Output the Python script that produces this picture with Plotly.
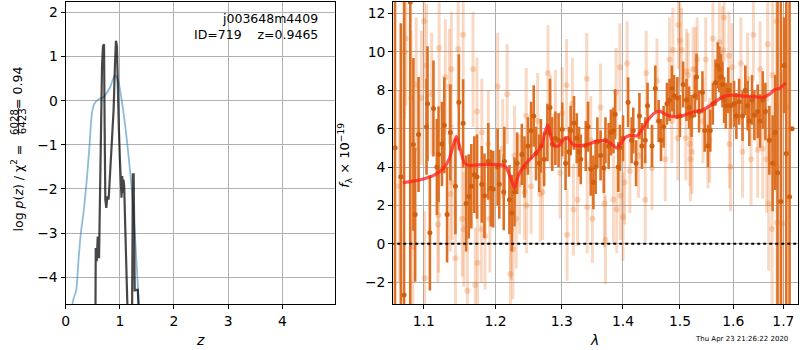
import plotly.graph_objects as go

# ---------------- left panel: p(z) ----------------
z_prior = [0.10, 0.134, 0.195, 0.238, 0.281, 0.330, 0.391, 0.440, 0.483, 0.525, 0.605, 0.696,
           0.819, 0.910, 0.971, 1.051, 1.136, 1.216, 1.277, 1.320, 1.350, 1.37]
lnp_prior = [-5.2, -4.55, -4.30, -3.61, -3.0, -2.55, -1.79, -1.03, -0.31, -0.08, 0.03, 0.08,
             0.30, 0.58, 0.45, -0.12, -0.95, -1.94, -3.0, -3.91, -4.61, -5.5]

z_pz = [0.540, 0.544, 0.556, 0.574, 0.593, 0.617, 0.635, 0.648, 0.660, 0.672, 0.690, 0.709,
        0.721, 0.733, 0.751, 0.770, 0.794, 0.812, 0.837, 0.861, 0.886, 0.910, 0.929, 0.947,
        0.965, 0.983, 1.002, 1.020, 1.032, 1.045, 1.057, 1.069, 1.081, 1.100, 1.118, 1.136,
        1.150, 1.215, 1.228, 1.236, 1.241, 1.256, 1.263, 1.275, 1.307, 1.332, 1.344, 1.350]
lnp_pz = [-8, -4.61, -3.34, -3.64, -3.08, -3.57, -2.17, -0.73, -0.58, 0.79, 1.24, 1.28,
          -0.73, -2.24, -2.43, -2.17, -2.24, -1.83, -1.48, -0.88, -0.20, 0.79, 1.36, 1.24,
          0.11, -0.65, -1.33, -1.79, -2.20, -1.71, -2.09, -1.79, -1.94, -2.85, -3.76, -4.61,
          -8, -8, -4.5, -1.67, -1.67, -1.67, -4.0, -4.3, -4.29, -4.29, -4.61, -8]

z_ticks = [0, 1, 2, 3, 4]
lnp_ticks = [-4, -3, -2, -1, 0, 1, 2]

# ---------------- right panel: spectrum ----------------
lam_a = [1.0625, 1.0700, 1.0742, 1.0823, 1.0864, 1.0887, 1.0932, 1.1038, 1.1051, 1.1083,
         1.1131, 1.1177, 1.1200, 1.1246, 1.1278, 1.1316, 1.1361, 1.1431, 1.1478, 1.1538,
         1.1580, 1.1617, 1.1653, 1.1695, 1.1733, 1.1802, 1.1840, 1.1895, 1.1931, 1.1965,
         1.2030, 1.2054, 1.2119, 1.2128, 1.2203, 1.2239, 1.2278, 1.2318, 1.2388, 1.2427,
         1.2478, 1.2527, 1.2567, 1.2602, 1.2651, 1.2676, 1.2726, 1.2777, 1.2816, 1.2852,
         1.2901, 1.2951, 1.3008, 1.3061, 1.3115, 1.3142, 1.3195, 1.3239, 1.3276, 1.3303,
         1.3384, 1.3421, 1.3465, 1.3508, 1.3545, 1.3573, 1.3626, 1.3679, 1.3707, 1.3760,
         1.3798, 1.3840, 1.3868, 1.3921, 1.3948, 1.4001, 1.4088, 1.4148, 1.4176, 1.4224,
         1.4282, 1.4325, 1.4383, 1.4423, 1.4501, 1.4559, 1.4618, 1.4660, 1.4706, 1.4766,
         1.4812, 1.4854, 1.4894, 1.4953, 1.5000, 1.5057, 1.5120, 1.5167, 1.5212, 1.5272,
         1.5304, 1.5351, 1.5414, 1.5456, 1.5517, 1.5561, 1.5609, 1.5659, 1.5701, 1.5732,
         1.5764, 1.5793, 1.5824, 1.5856, 1.5904, 1.5948, 1.6014, 1.6060, 1.6114, 1.6180,
         1.6234, 1.6280, 1.6314, 1.6368, 1.6414, 1.6480, 1.6528, 1.6580, 1.6634, 1.6714,
         1.6780, 1.6834, 1.6880, 1.6948, 1.7014, 1.7060, 1.7128, 1.7180]
flux_a = [5.0, 3.5, -2.67, 12.6, 5.18, 1.52, 5.7, 6.1, 7.3, 0.57,
          7.05, 4.0, 4.66, 5.2, 6.18, 1.52, 5.8, 3.0, 7.38, 6.28,
          2.1, 2.47, 3.0, 3.6, 3.5, 3.1, 2.5, 4.3, 2.9, 2.85,
          4.0, 3.1, 2.7, 4.3, 2.3, 1.6, 2.7, 4.2, 4.66, 4.0,
          5.1, 5.9, 6.66, 4.7, 4.2, 5.1, 4.4, 5.8, 7.1, 5.2,
          5.5, 5.4, 5.96, 4.2, 4.8, 5.9, 6.3, 5.5, 4.8, 4.4,
          5.1, 6.1, 3.9, 3.2, 4.0, 5.3, 4.6, 3.95, 5.4, 5.1,
          5.8, 5.9, 6.75, 4.0, 5.0, 5.5, 7.38, 5.4, 5.9, 4.2,
          6.66, 5.1, 5.4, 7.2, 5.1, 8.1, 6.4, 5.4, 6.1, 7.3,
          7.5, 8.1, 7.7, 7.6, 6.66, 8.3, 7.5, 7.1, 6.66, 7.7,
          8.7, 6.9, 7.9, 5.9, 5.1, 5.9, 7.3, 8.4, 9.3, 9.1,
          8.7, 8.3, 7.5, 7.2, 8.0, 7.2, 7.3, 6.66, 7.4, 6.66,
          8.0, 7.2, 6.4, 7.5, 6.7, 6.9, 6.4, 7.5, 6.9, 5.4,
          4.2, 5.8, 3.7, 2.2, 9.3, 4.7, 2.45, 6.0]
err_a = [30, 8.0, 30, 30, 4.5, 3.5, 3.0, 2.5, 3.0, 3.0,
         2.5, 2.5, 2.5, 2.2, 2.5, 2.5, 2.5, 2.5, 2.5, 2.3,
         2.5, 2.2, 2.2, 2.0, 2.2, 2.0, 2.2, 2.0, 2.0, 2.0,
         2.0, 1.8, 2.0, 1.8, 1.8, 2.0, 1.8, 1.6, 1.6, 1.6,
         1.5, 1.5, 1.6, 1.4, 1.5, 1.4, 1.4, 1.5, 1.5, 1.4,
         1.4, 1.4, 1.4, 1.4, 1.3, 1.3, 1.4, 1.3, 1.3, 1.3,
         1.3, 1.3, 1.4, 1.4, 1.4, 1.3, 1.3, 1.3, 1.2, 1.2,
         1.2, 1.2, 1.3, 1.3, 1.2, 1.2, 1.3, 1.2, 1.2, 1.2,
         1.2, 1.2, 1.2, 1.2, 1.1, 1.2, 1.1, 1.1, 1.1, 1.1,
         1.1, 1.2, 1.1, 1.1, 1.1, 1.2, 1.1, 1.1, 1.1, 1.1,
         1.2, 1.1, 1.1, 1.1, 1.1, 1.1, 1.1, 1.2, 1.2, 1.2,
         1.2, 1.2, 1.2, 1.2, 1.2, 1.2, 1.2, 1.2, 1.2, 1.3,
         1.3, 1.3, 1.3, 1.3, 1.3, 1.4, 1.4, 1.5, 1.5, 1.8,
         2.5, 3.0, 30, 30, 2.5, 30, 30, 0]

lam_b = [1.0680, 1.0751, 1.0765, 1.0833, 1.0856, 1.0901, 1.0969, 1.1006, 1.1014, 1.1038,
         1.1107, 1.1190, 1.1200, 1.1208, 1.1292, 1.1347, 1.1361, 1.1375, 1.1385, 1.1431,
         1.1469, 1.1524, 1.1538, 1.1548, 1.1598, 1.1677, 1.1709, 1.1733, 1.1740, 1.1795,
         1.1802, 1.1848, 1.1895, 1.1917, 1.2030, 1.2105, 1.2169, 1.2218, 1.2228, 1.2254,
         1.2278, 1.2303, 1.2353, 1.2427, 1.2453, 1.2460, 1.2527, 1.2627, 1.2666, 1.2702,
         1.2786, 1.2826, 1.2901, 1.2975, 1.3008, 1.3077, 1.3085, 1.3169, 1.3185, 1.3250,
         1.3400, 1.3408, 1.3465, 1.3492, 1.3626, 1.3690, 1.3707, 1.3840, 1.3884, 1.3895,
         1.3948, 1.3959, 1.4001, 1.4030, 1.4071, 1.4118, 1.4265, 1.4383, 1.4400, 1.4501,
         1.4589, 1.4736, 1.4812, 1.4854, 1.4872, 1.4960, 1.4971, 1.5000, 1.5028, 1.5107,
         1.5120, 1.5149, 1.5180, 1.5193, 1.5220, 1.5241, 1.5285, 1.5315, 1.5425, 1.5475,
         1.5517, 1.5548, 1.5609, 1.5732, 1.5793, 1.5824, 1.5916, 1.5925, 1.5948, 1.5978,
         1.6148, 1.6180, 1.6280, 1.6348, 1.6394, 1.6480, 1.6528, 1.6580, 1.6660, 1.6680,
         1.6700, 1.6768, 1.6780, 1.6860, 1.6870, 1.6980, 1.7060]
flux_b = [3.0, 10.0, 10.7, 7.6, -0.14, 8.3, 7.6, 11.6, -1.8, 9.3,
          7.8, 1.0, 1.5, 10.2, 8.7, 8.2, 2.6, 9.1, 3.2, -0.75,
          10.15, 1.3, 10.9, 0.76, -2.45, 9.1, -2.15, 6.9, -1.0, 0.76,
          5.8, 0.4, 5.2, 1.3, 8.2, 4.95, 7.8, -1.57, 0.73, -0.3,
          4.6, 1.3, 3.1, 2.7, 6.66, 2.0, 3.0, 6.4, 2.6, 2.7,
          8.9, 6.4, 6.66, 3.7, 6.8, 8.27, 0.47, 7.3, 1.78, 2.3,
          8.6, 1.9, 5.4, 1.3, 7.1, 2.1, 0.2, 2.3, 7.9, 1.8,
          9.2, 2.5, 1.4, 3.2, 9.4, 3.8, 4.6, 2.3, 8.9, 3.95,
          8.5, 4.4, 9.6, 6.4, 10.1, 5.5, 11.4, 10.6, 10.1, 5.5,
          9.0, 8.8, 5.2, 4.4, 4.8, 9.1, 9.1, 9.6, 6.4, 9.6,
          5.1, 5.4, 10.7, 10.5, 10.1, 11.8, 9.8, 5.2, 4.0, 9.2,
          9.4, 4.8, 8.6, 4.4, 10.9, 4.9, 9.1, 4.95, 4.4, 10.4,
          2.1, 0.77, 8.8, 11.6, 1.1, 1.05, 7.1]
err_b = [5.0, 3.5, 3.5, 3.5, 3.5, 3.5, 3.5, 3.5, 3.5, 3.2,
         3.2, 3.0, 3.0, 3.2, 3.0, 3.0, 3.0, 3.0, 3.0, 3.0,
         3.0, 3.0, 3.0, 3.0, 3.0, 3.0, 3.0, 2.8, 3.0, 2.8,
         2.8, 2.8, 2.8, 2.8, 2.8, 2.6, 2.6, 2.6, 2.6, 2.6,
         2.6, 2.6, 2.6, 2.5, 2.5, 2.5, 2.5, 2.5, 2.5, 2.5,
         2.5, 2.4, 2.4, 2.4, 2.4, 2.4, 2.4, 2.4, 2.4, 2.4,
         2.4, 2.4, 2.3, 2.3, 2.3, 2.3, 2.3, 2.3, 2.3, 2.3,
         2.3, 2.3, 2.3, 2.2, 2.2, 2.2, 2.2, 2.2, 2.2, 2.2,
         2.2, 2.2, 2.2, 2.2, 2.2, 2.2, 2.3, 2.2, 2.2, 2.2,
         2.2, 2.2, 2.2, 2.2, 2.2, 2.2, 2.2, 2.2, 2.2, 2.2,
         2.2, 2.2, 2.3, 2.3, 2.3, 2.3, 2.3, 2.3, 2.3, 2.3,
         2.4, 2.4, 2.4, 2.4, 2.4, 2.5, 2.5, 2.6, 2.8, 3.0,
         3.5, 5.0, 4.0, 6.0, 6.0, 8.0, 5.0]

lam_model = [1.0726, 1.0973, 1.1153, 1.1274, 1.1343, 1.1399, 1.1444, 1.1486, 1.1551, 1.1621,
             1.1806, 1.2040, 1.2139, 1.2214, 1.2279, 1.2339, 1.2438, 1.2538, 1.2612, 1.2687,
             1.2736, 1.2787, 1.2836, 1.2881, 1.2955, 1.3032, 1.3097, 1.3173, 1.3274, 1.3415,
             1.3576, 1.3710, 1.3818, 1.3887, 1.3952, 1.4035, 1.4123, 1.4240, 1.4328, 1.4444,
             1.4561, 1.4649, 1.4737, 1.4883, 1.5031, 1.5217, 1.5402, 1.5556, 1.5680, 1.5833,
             1.5987, 1.6187, 1.6387, 1.6587, 1.6720, 1.6820, 1.6920, 1.7020, 1.7054]
flux_model = [3.18, 3.35, 3.6, 3.97, 4.4, 5.1, 5.6, 5.1, 4.24, 4.08,
              4.13, 4.13, 4.05, 3.5, 2.9, 3.6, 4.13, 4.5, 4.76, 5.1,
              5.8, 6.2, 5.5, 5.1, 5.1, 5.45, 5.53, 5.18, 5.1, 5.18,
              5.36, 5.36, 5.18, 5.0, 5.18, 5.53, 5.65, 5.62, 5.97, 6.5,
              6.85, 6.9, 6.75, 6.62, 6.66, 6.85, 6.96, 7.19, 7.45, 7.7,
              7.75, 7.7, 7.68, 7.63, 7.8, 8.03, 8.1, 8.32, 8.38]

lam_ticks = [1.1, 1.2, 1.3, 1.4, 1.5, 1.6, 1.7]
flux_ticks = [-2, 0, 2, 4, 6, 8, 10, 12]

FONT = "DejaVu Sans"
W, H = 800, 350


def px(x):
    return x / W


def py(y):
    return (H - y) / H


ORANGE = "rgb(222,112,36)"
ORANGE_PT = "rgb(208,96,14)"
ORANGE_LT = "rgba(232,120,40,0.28)"

fig = go.Figure()

fig.add_trace(go.Scatter(x=z_prior, y=lnp_prior, mode="lines",
                         line=dict(color="rgba(31,119,180,0.5)", width=1.8, shape="spline", smoothing=0.6),
                         xaxis="x", yaxis="y", showlegend=False))
fig.add_trace(go.Scatter(x=z_pz, y=lnp_pz, mode="lines",
                         line=dict(color="rgba(0,0,0,0.72)", width=2.2),
                         xaxis="x", yaxis="y", showlegend=False))

fig.add_trace(go.Scatter(x=lam_b, y=flux_b, mode="markers",
                         marker=dict(color=ORANGE_LT, size=6, line=dict(width=0)),
                         error_y=dict(type="data", array=err_b, visible=True, color=ORANGE_LT,
                                      thickness=3, width=0),
                         xaxis="x2", yaxis="y2", showlegend=False))
fig.add_trace(go.Scatter(x=lam_a, y=flux_a, mode="markers",
                         marker=dict(color=ORANGE_PT, size=5, line=dict(width=0)),
                         error_y=dict(type="data", array=err_a, visible=True, color=ORANGE,
                                      thickness=2.6, width=0),
                         xaxis="x2", yaxis="y2", showlegend=False))
fig.add_trace(go.Scatter(x=[1.05, 1.75], y=[0, 0], mode="lines",
                         line=dict(color="black", width=2, dash="dot"),
                         xaxis="x2", yaxis="y2", showlegend=False))
fig.add_trace(go.Scatter(x=lam_model, y=flux_model, mode="lines",
                         line=dict(color="rgba(255,30,30,0.75)", width=3.2, shape="spline", smoothing=0.5),
                         xaxis="x2", yaxis="y2", showlegend=False))

axis_common = dict(showline=True, mirror=True, linecolor="black", linewidth=1.2,
                   ticks="outside", ticklen=4, tickwidth=1, tickcolor="black",
                   showgrid=True, gridcolor="#b0b0b0", gridwidth=1, zeroline=False,
                   tickfont=dict(family=FONT, size=13.9, color="black"))

ydom = [py(304), py(1.5)]
fig.update_layout(
    width=W, height=H,
    margin=dict(l=0, r=0, t=0, b=0),
    paper_bgcolor="white", plot_bgcolor="white",
    xaxis=dict(domain=[px(62), px(333)], range=[0, 4.97], tickvals=z_ticks,
               anchor="y", **axis_common),
    yaxis=dict(domain=ydom, range=[-4.61, 2.25], tickvals=lnp_ticks,
               anchor="x", **axis_common),
    xaxis2=dict(domain=[px(391.7), px(799.3)], type="log", range=[0.0254, 0.2383],
                tickvals=lam_ticks, ticktext=[f"{v:.1f}" for v in lam_ticks],
                anchor="y2", **axis_common),
    yaxis2=dict(domain=ydom, range=[-3.14, 12.63], tickvals=flux_ticks,
                anchor="x2", **axis_common),
)

ann = []


def A(text, x, y, size=13.9, angle=0, xanchor="center", yanchor="middle", italic=False):
    ann.append(dict(text=text, x=px(x), y=py(y), xref="paper", yref="paper", showarrow=False,
                    xanchor=xanchor, yanchor=yanchor, textangle=angle,
                    font=dict(family=FONT, size=size, color="black",
                              style="italic" if italic else "normal")))


A("z", 197.5, 340, italic=True)
A("λ", 594, 340, italic=True)
A("log <i>p</i>(<i>z</i>) / χ<sup>2</sup> =", 13.5, 188, size=12.5, angle=-90)
A("= 0.94", 13.5, 87.5, size=12.5, angle=-90)
A("6028", 10.5, 121.5, size=10.2, angle=-90)
A("6423", 18.8, 121.5, size=10.2, angle=-90)
A("<i>f</i><sub>λ</sub> × 10<sup>−19</sup>", 343, 155, size=13, angle=-90)
A("j003648m4409", 318, 19, size=12.5, xanchor="right")
A("ID=719\u00a0\u00a0\u00a0\u00a0z=0.9465", 318, 35, size=12.5, xanchor="right")
A("Thu Apr 23 21:26:22 2020", 742, 339, size=7)

fig.update_layout(annotations=ann)
fig.add_shape(type="line", xref="paper", yref="paper",
              x0=px(14.5), x1=px(14.5), y0=py(108), y1=py(135),
              line=dict(color="black", width=0.8))

fig.write_html("out.html", config={"displayModeBar": False},
               post_script="document.body.style.margin='0px';document.body.style.overflow='hidden';")
